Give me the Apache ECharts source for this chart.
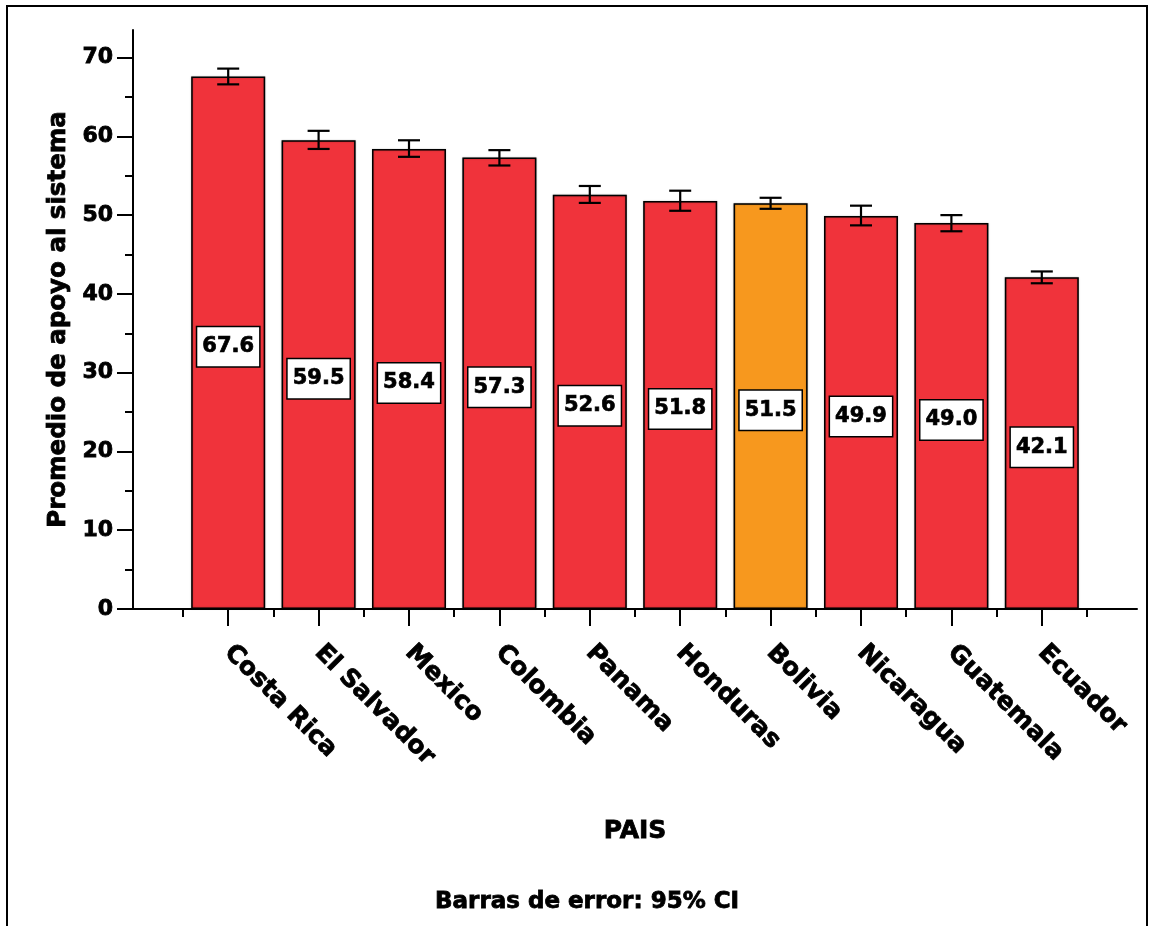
<!DOCTYPE html>
<html>
<head>
<meta charset="utf-8">
<script src="https://cdn.jsdelivr.net/npm/echarts@6/dist/echarts.min.js"></script>
<style>
html,body{margin:0;padding:0;background:#fff;}
#c{width:1153px;height:926px;}
</style>
</head>
<body>
<div id="c"></div>
<script>
const categories = ['Costa Rica','El Salvador','Mexico','Colombia','Panama','Honduras','Bolivia','Nicaragua','Guatemala','Ecuador'];
const means = [67.6, 59.5, 58.4, 57.3, 52.6, 51.8, 51.5, 49.9, 49.0, 42.1];
const ciLow = [66.6, 58.4, 57.4, 56.3, 51.55, 50.55, 50.8, 48.7, 47.95, 41.35];
const ciHigh = [68.6, 60.7, 59.5, 58.25, 53.7, 53.1, 52.2, 51.2, 50.0, 42.85];
const highlight = 'Bolivia';
const yTicks = [0, 10, 20, 30, 40, 50, 60, 70];
const yMinorTicks = [5, 15, 25, 35, 45, 55, 65];

const RED = '#F0333B';
const ORANGE = '#F7981E';
const FONT = 'DejaVu Sans';
const YMAX = 73.5;
const heavy = {fontFamily: FONT, fontWeight: 'bold', color: '#000', textBorderColor: '#000', textBorderWidth: 0.8};

const chart = echarts.init(document.getElementById('c'), null, {renderer: 'canvas'});

const barData = means.map((v, i) => ({
  value: v,
  itemStyle: {color: categories[i] === highlight ? ORANGE : RED}
}));
const errData = categories.map((c, i) => [i, ciLow[i], ciHigh[i]]);

const option = {
  backgroundColor: '#fff',
  animation: false,
  graphic: [{
    type: 'rect',
    shape: {x: 7, y: 6, width: 1140, height: 960},
    style: {fill: null, stroke: '#000', lineWidth: 2},
    silent: true,
    z: 0
  }],
  title: {
    text: 'Barras de error: 95% CI',
    left: 430,
    top: 886,
    textStyle: Object.assign({}, heavy, {fontSize: 23})
  },
  grid: [
    {left: 133, right: 16, top: 30, bottom: 317},
    {left: 183, right: 66, top: 30, bottom: 317}
  ],
  xAxis: [
    {
      gridIndex: 0, type: 'value', min: 0, max: 1,
      axisLine: {show: true, lineStyle: {color: '#000', width: 2}},
      axisTick: {show: false}, axisLabel: {show: false}, splitLine: {show: false},
      name: 'PAIS', nameLocation: 'middle', nameGap: 210,
      nameTextStyle: Object.assign({}, heavy, {fontSize: 25})
    },
    {
      gridIndex: 1, type: 'category', data: categories,
      axisLine: {show: false},
      axisTick: {show: true, alignWithLabel: true, length: 17, lineStyle: {color: '#000', width: 2}},
      axisLabel: Object.assign({rotate: -45, margin: 40, interval: 0}, heavy, {fontSize: 25}),
      splitLine: {show: false}
    },
    {
      gridIndex: 1, type: 'category', data: categories, position: 'bottom',
      axisLine: {show: false},
      axisTick: {show: true, alignWithLabel: false, interval: 0, length: 8, lineStyle: {color: '#000', width: 2}},
      axisLabel: {show: false},
      splitLine: {show: false}
    }
  ],
  yAxis: [
    {
      gridIndex: 0, type: 'value', min: 0, max: YMAX,
      axisLine: {show: true, lineStyle: {color: '#000', width: 2}},
      axisTick: {show: true, customValues: yTicks, length: 16, lineStyle: {color: '#000', width: 2}},
      axisLabel: Object.assign({customValues: yTicks, margin: 20}, heavy, {fontSize: 22}),
      splitLine: {show: false},
      name: 'Promedio de apoyo al sistema', nameLocation: 'middle', nameGap: 58,
      nameTextStyle: Object.assign({}, heavy, {fontSize: 24.5})
    },
    {
      gridIndex: 0, type: 'value', min: 0, max: YMAX, position: 'left',
      axisLine: {show: false},
      axisTick: {show: true, customValues: yMinorTicks, length: 8, lineStyle: {color: '#000', width: 2}},
      axisLabel: {show: false},
      splitLine: {show: false}
    },
    {
      gridIndex: 1, type: 'value', min: 0, max: YMAX, show: false,
      splitLine: {show: false}
    }
  ],
  series: [
    {
      type: 'bar',
      xAxisIndex: 1, yAxisIndex: 2,
      data: barData,
      barWidth: 74,
      itemStyle: {borderColor: '#000', borderWidth: 1.5, shadowColor: 'rgba(0,0,0,0.35)', shadowBlur: 1.5},
      label: {
        show: true, position: 'inside', offset: [0, 4],
        formatter: p => p.value.toFixed(1),
        fontFamily: FONT, fontWeight: 'bold', color: '#000', textBorderColor: '#000', textBorderWidth: 0.7,
        fontSize: 21,
        backgroundColor: '#fff', borderColor: '#000', borderWidth: 1.5,
        padding: [10, 5, 8, 5]
      },
      z: 2
    },
    {
      type: 'custom',
      xAxisIndex: 1, yAxisIndex: 2,
      data: errData,
      z: 5,
      renderItem: function (params, api) {
        const x = api.value(0);
        const lo = api.coord([x, api.value(1)]);
        const hi = api.coord([x, api.value(2)]);
        const hw = 11;
        const st = {stroke: '#000', lineWidth: 2.2};
        return {
          type: 'group',
          children: [
            {type: 'line', shape: {x1: hi[0], y1: hi[1], x2: lo[0], y2: lo[1]}, style: st},
            {type: 'line', shape: {x1: hi[0] - hw, y1: hi[1], x2: hi[0] + hw, y2: hi[1]}, style: st},
            {type: 'line', shape: {x1: lo[0] - hw, y1: lo[1], x2: lo[0] + hw, y2: lo[1]}, style: st}
          ]
        };
      }
    }
  ]
};
chart.setOption(option);
</script>
</body>
</html>
